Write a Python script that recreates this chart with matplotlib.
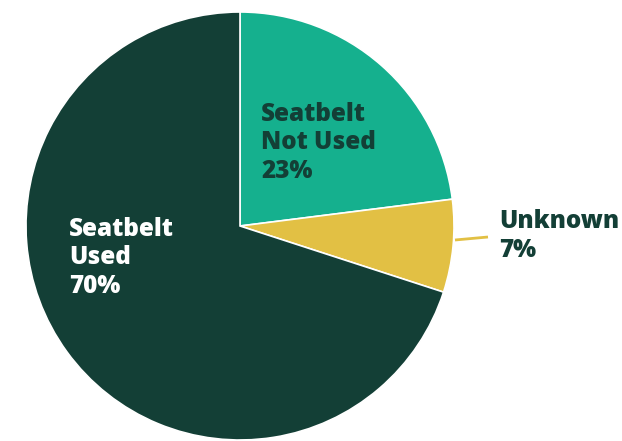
import matplotlib
matplotlib.use('Agg')
import matplotlib.pyplot as plt

# seatbelt use share
categories = ['Seatbelt\nNot Used', 'Unknown', 'Seatbelt\nUsed']
shares = [23, 7, 70]
colors = ['#15B08E', '#E2C044', '#133F36']

W, H = 622, 441
fig = plt.figure(figsize=(W / 100, H / 100), dpi=100)
cx, cy, r = 240, 226, 214
ax = fig.add_axes([(cx - r) / W, (H - cy - r) / H, 2 * r / W, 2 * r / H])

wedges, _ = ax.pie(shares, colors=colors, startangle=90, counterclock=False,
                   radius=1, wedgeprops=dict(edgecolor='white', linewidth=1.2))
ax.set_xlim(-1, 1)
ax.set_ylim(-1, 1)
ax.set_aspect('auto')
ax.axis('off')

font = dict(family=['Open Sans', 'DejaVu Sans'], weight='heavy', fontsize=17.5,
            linespacing=1.2)

def px(x, y):
    # pixel position -> data coords
    return (x - cx) / r, (cy - y) / r

ax.text(*px(261, 143), f'{categories[0]}\n{shares[0]}%', color='#133F36',
        ha='left', va='center', **font)
ax.text(*px(69, 258), f'{categories[2]}\n{shares[2]}%', color='white',
        ha='left', va='center', **font)
ax.text(*px(499, 236), f'{categories[1]}\n{shares[1]}%', color='#133F36',
        ha='left', va='center', clip_on=False, **font)

# leader line for the small slice
ax.plot([px(455, 240)[0], px(488, 237)[0]], [px(455, 240)[1], px(488, 237)[1]],
        color='#E2C044', lw=2, clip_on=False, solid_capstyle='butt')

fig.savefig('out.png', dpi=100)
